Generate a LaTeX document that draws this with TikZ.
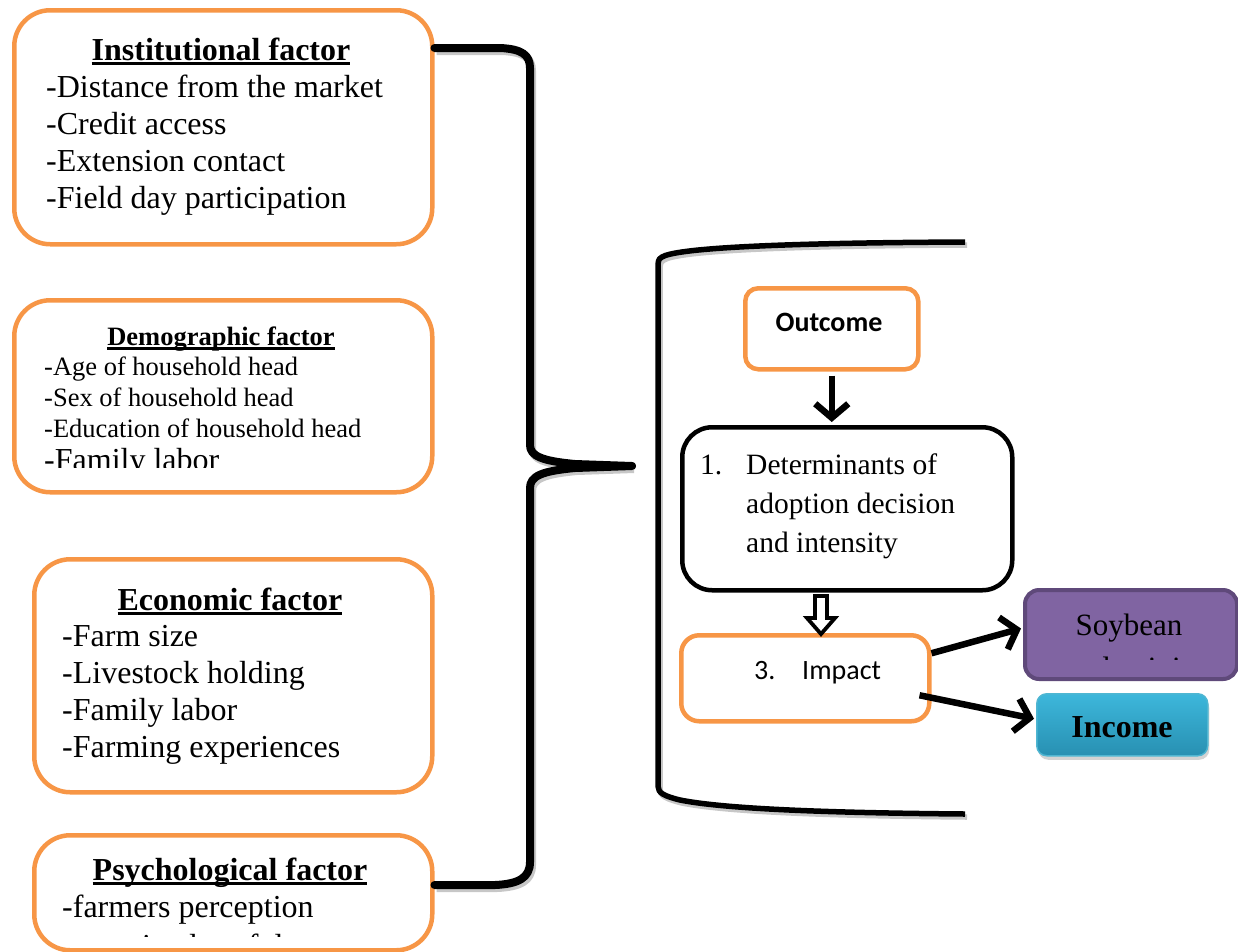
\documentclass[tikz,border=0pt]{standalone}
\usepackage{fontspec}
\setmainfont{Liberation Serif}
\newfontfamily\calfont{Carlito}
\usetikzlibrary{arrows.meta,shadows}
\definecolor{orng}{HTML}{F79646}
\definecolor{purp}{HTML}{8064A2}
\definecolor{purpd}{HTML}{5F497A}
\definecolor{cyn1}{HTML}{3DB7DB}
\definecolor{cyn2}{HTML}{2890B2}
\definecolor{cyn3}{HTML}{4FB6D2}
\newcommand\myul[1]{\setbox0\hbox{#1}\rlap{\rule[-4.5pt]{\wd0}{2.6pt}}\box0}
\begin{document}
\begin{tikzpicture}[x=1pt,y=-1pt,
  fbox/.style={draw=orng,line width=4.5pt,rounded corners=36pt,fill=white,anchor=north west,inner sep=0},
  sbox/.style={draw=orng,line width=4.5pt,rounded corners=14pt,fill=white,anchor=north west,inner sep=0},
  txt/.style={inner sep=0,anchor=base west},
  big/.style={font=\fontsize{32}{37}\selectfont},
  small/.style={font=\fontsize{26.5}{31}\selectfont},
  mid/.style={font=\fontsize{29.5}{39}\selectfont},
  cal/.style={font=\calfont\fontsize{28}{34}\selectfont},
  brk/.style={line width=8pt,line cap=round,line join=round,
    preaction={draw=black!22,line width=8pt,transform canvas={shift={(2pt,-3pt)}}}},
  rbrk/.style={line width=5.5pt,line cap=butt,line join=round,
    preaction={draw=black!22,line width=5.5pt,transform canvas={shift={(2pt,-3pt)}}}},
  arr/.style={line width=6.5pt,-{Straight Barb[length=14pt,width=33pt,line width=6.5pt]}},
]
\useasboundingbox (0,0) rectangle (1238,951);

% ---------- left boxes ----------
\node[fbox,minimum width=418pt,minimum height=234pt] (inst) at (12,8) {};
\node[txt,big,anchor=base] (instT) at (221,60) {\bfseries\myul{Institutional factor}};
\node[txt,big] (inst1) at (46,97) {-Distance from the market};
\node[txt,big] (inst2) at (46,134) {-Credit access};
\node[txt,big] (inst3) at (46,171) {-Extension contact};
\node[txt,big] (inst4) at (46,208) {-Field day participation};

\node[fbox,minimum width=418pt,minimum height=192pt] (demo) at (12,298) {};
\node[txt,small,anchor=base] (demoT) at (221,345) {\bfseries\myul{Demographic factor}};
\node[txt,small] (demo1) at (44,375) {-Age of household head};
\node[txt,small] (demo2) at (44,406) {-Sex of household head};
\node[txt,small] (demo3) at (44,437) {-Education of household head};
\begin{scope}
  \clip (14,300) rectangle (428,467);
  \node[txt,font=\fontsize{32}{37}\selectfont] (demo4) at (44,470) {-Family labor};
\end{scope}

\node[fbox,minimum width=398pt,minimum height=233pt] (econ) at (32,557) {};
\node[txt,big,anchor=base] (econT) at (230,610) {\bfseries\myul{Economic factor}};
\node[txt,big] (econ1) at (62,646) {-Farm size};
\node[txt,big] (econ2) at (62,683) {-Livestock holding};
\node[txt,big] (econ3) at (62,720) {-Family labor};
\node[txt,big] (econ4) at (62,757) {-Farming experiences};

\node[fbox,minimum width=398pt,minimum height=115pt] (psy) at (32,833) {};
\node[txt,big,anchor=base] (psyT) at (230,880) {\bfseries\myul{Psychological factor}};
\node[txt,big] (psy1) at (62,917) {-farmers perception};
\begin{scope}
  \clip (34,835) rectangle (428,936);
  \node[txt,big] (psy2) at (62,956) {-perceived usefulness};
\end{scope}

% ---------- left brace ----------
\coordinate (tip) at (632,466);
\draw[brk] (inst.east |- 0,48) -- (500,48) .. controls (522,49) and (530,55) .. (530,68)
  -- (530,445) .. controls (530,456) and (542,461) .. (575,464) -- (tip);
\draw[brk] (tip) -- (575,468) .. controls (542,471) and (530,476) .. (530,488)
  -- (530,862) .. controls (530,878) and (518,884) .. (495,885) -- (psy.east |- 0,885);

% ---------- right bracket ----------
\draw[rbrk] (965,242) .. controls (760,243) and (675,249) .. (662,257)
  .. controls (658,259) and (658,262) .. (658,268) -- (658,786)
  .. controls (658,793) and (664,796) .. (680,800)
  .. controls (730,810) and (850,813) .. (965,814);

% ---------- right boxes ----------
\node[sbox,minimum width=173pt,minimum height=81pt,rounded corners=13pt] (out) at (743,286) {};
\node[txt,cal,anchor=base] (outT) at (829,331) {\bfseries Outcome};

\node[draw=black,line width=4.5pt,rounded corners=30pt,fill=white,anchor=north west,inner sep=0,
  minimum width=330pt,minimum height=163pt] (det) at (680,425) {};
\node[txt,mid] (det0) at (700,474) {1.};
\node[txt,mid] (det1) at (746,474) {Determinants of};
\node[txt,mid] (det2) at (746,513) {adoption decision};
\node[txt,mid] (det3) at (746,552) {and intensity};

\node[sbox,minimum width=248pt,minimum height=86pt,rounded corners=18pt] (imp) at (679,633) {};
\node[txt,cal] (imp0) at (754,679) {3.};
\node[txt,cal] (imp1) at (802,679) {Impact};

\node[draw=purpd,fill=purp,line width=4pt,rounded corners=14pt,anchor=north west,inner sep=0,
  minimum width=212pt,minimum height=89pt] (soy) at (1023,588) {};
\node[txt,font=\fontsize{31}{37}\selectfont,anchor=base] (soyT) at (1129,635) {Soybean};
\begin{scope}
  \clip (1026,600) rectangle (1232,659);
  \node[txt,font=\fontsize{31}{37}\selectfont,anchor=base] (soy2) at (1129,678) {productivity};
\end{scope}

\node[top color=cyn1,bottom color=cyn2,draw=cyn3,line width=1.5pt,rounded corners=10pt,
  anchor=north west,inner sep=0,minimum width=171pt,minimum height=62pt,
  drop shadow={shadow xshift=1.5pt,shadow yshift=-4pt,opacity=0.35}] (inc) at (1036,693) {};
\node[txt,big,anchor=base] (incT) at (1122,737) {\bfseries Income};

% ---------- connectors ----------
\draw[arr] ([yshift=-4pt]out.south) -- ([yshift=3pt]det.north -| out.south);
\draw[line width=3.8pt,fill=white,line join=miter]
  (815,596) -- (827,596) -- (827,618) -- (835,618) -- (821,634) -- (807,618) -- (815,618) -- cycle;
\draw[arr] ([yshift=25pt]imp.east) -- ([xshift=-2pt,yshift=6pt]soy.west);
\draw[arr] ([xshift=-12pt,yshift=-17pt]imp.east) -- ([xshift=-2pt,yshift=6pt]inc.west);
\end{tikzpicture}
\end{document}
